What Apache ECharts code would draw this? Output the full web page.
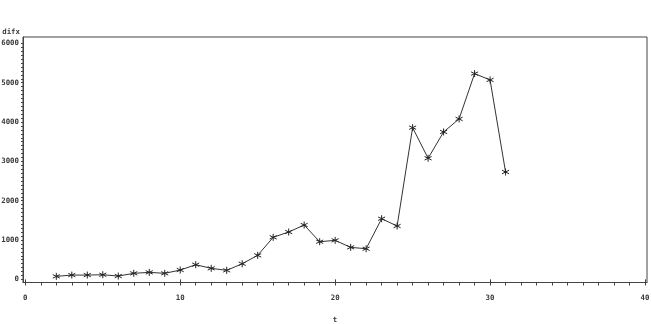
<!DOCTYPE html>
<html>
<head>
<meta charset="utf-8">
<script src="https://cdn.jsdelivr.net/npm/echarts@6/dist/echarts.min.js"></script>
<style>
html,body{margin:0;padding:0;background:#fff;}
#chart{width:651px;height:324px;}
</style>
</head>
<body>
<div id="chart"></div>
<script>
var tValues = [2,3,4,5,6,7,8,9,10,11,12,13,14,15,16,17,18,19,20,21,22,23,24,25,26,27,28,29,30,31];
var difxValues = [76,109,109,117,84,153,178,153,237,372,280,229,397,611,1069,1204,1382,957,992,814,779,1542,1356,3858,3079,3748,4079,5232,5071,2730];
var xTickLabels = [0,10,20,30,40];
var yTickLabels = [0,1000,2000,3000,4000,5000,6000];
var xMinorTicks = [];
for (var i = 0; i <= 40; i++) xMinorTicks.push(i);
var yMinorTicks = [];
for (var j = 0; j <= 6000; j += 100) yMinorTicks.push(j);

var font = 'DejaVu Sans Mono';
var txtColor = '#3a3a3a';
var lineColor = '#444';
var fs = 7.4;

var chart = echarts.init(document.getElementById('chart'), null, {renderer: 'canvas'});
chart.setOption({
  backgroundColor: '#fff',
  animation: false,
  grid: {left: 23, right: 4, top: 37, bottom: 41.5, show: true, borderColor: lineColor, borderWidth: 1, containLabel: false, outerBoundsMode: 'none'},
  xAxis: [{
    type: 'value', min: -0.15, max: 40.13,
    name: 't', nameLocation: 'middle', nameGap: 34,
    nameTextStyle: {fontFamily: font, fontSize: fs, fontWeight: 'bold', color: txtColor},
    axisLine: {show: true, onZero: false, lineStyle: {color: lineColor}},
    axisTick: {show: true, length: 3, customValues: xMinorTicks, lineStyle: {color: lineColor}},
    axisLabel: {show: true, customValues: xTickLabels, fontFamily: font, fontSize: fs, fontWeight: 'bold', color: txtColor, margin: 12,
      formatter: function (v) { return String(v); }},
    splitLine: {show: false}
  }, {
    type: 'value', min: -0.15, max: 40.13, position: 'bottom',
    axisLine: {show: false},
    axisTick: {show: true, length: 5, customValues: xTickLabels, lineStyle: {color: lineColor}},
    axisLabel: {show: false},
    splitLine: {show: false}
  }],
  yAxis: {
    type: 'value', min: -80, max: 6163,
    name: 'difx', nameLocation: 'end', nameGap: 1,
    nameTextStyle: {fontFamily: font, fontSize: fs, fontWeight: 'bold', color: txtColor, align: 'right', verticalAlign: 'bottom', padding: [0, 3, 0, 0]},
    axisLine: {show: true, onZero: false, lineStyle: {color: lineColor}},
    axisTick: {show: true, length: 2, customValues: yMinorTicks, lineStyle: {color: lineColor}},
    axisLabel: {show: true, customValues: yTickLabels, fontFamily: font, fontSize: fs, fontWeight: 'bold', color: txtColor, margin: 4,
      formatter: function (v) { return String(v); }},
    splitLine: {show: false}
  },
  series: [{
    type: 'line',
    xAxisIndex: 0,
    data: tValues.map(function (t, k) { return [t, difxValues[k]]; }),
    lineStyle: {color: '#333', width: 1},
    symbol: 'path://M0,-1L0,1M-0.87,-0.5L0.87,0.5M-0.87,0.5L0.87,-0.5',
    symbolSize: 7,
    itemStyle: {color: 'rgba(0,0,0,0)', borderColor: '#222', borderWidth: 1},
    showSymbol: true
  }]
});
</script>
</body>
</html>
